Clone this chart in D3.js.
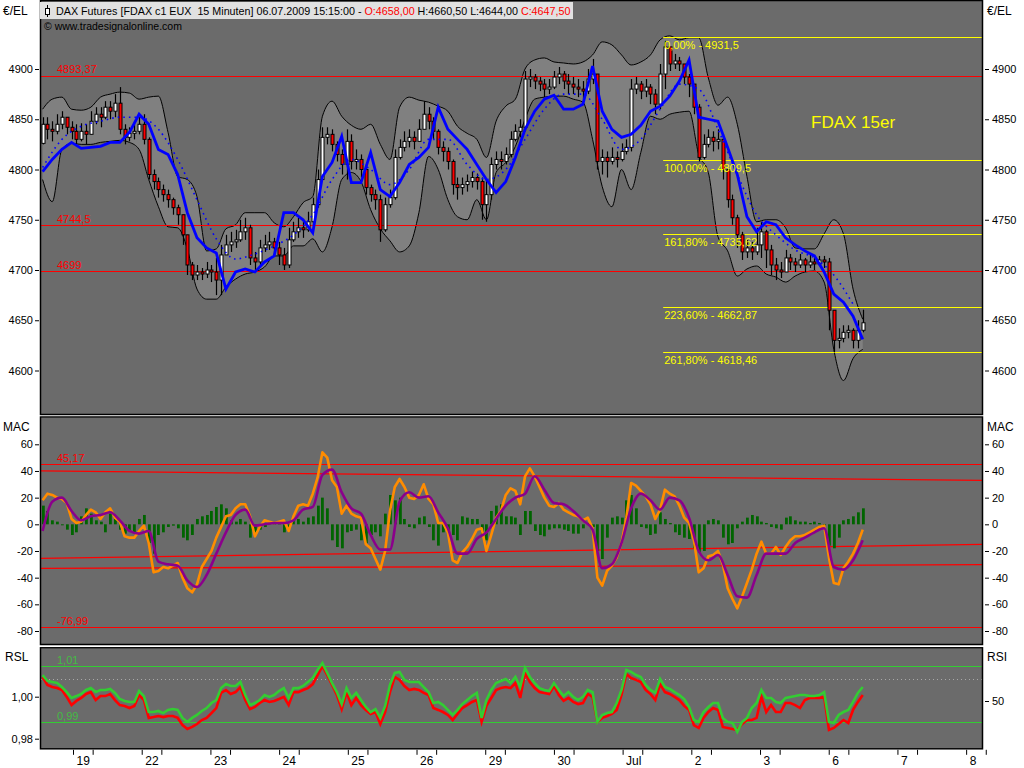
<!DOCTYPE html>
<html><head><meta charset="utf-8">
<script src="https://cdn.jsdelivr.net/npm/d3@7"></script>
<style>body{margin:0;background:#fff}svg text{font-family:"Liberation Sans",Arial,sans-serif}</style>
</head><body><svg id="c" width="1024" height="768"></svg>
<script>
// ---------------- DATA ----------------
// time grid: sample positions in trading days since 19 Jun 08:00
const SAMPLE_START = -0.4425, SAMPLE_STEP = 0.07022;
const dayLabels = ["19","22","23","24","25","26","29","30","Jul","2","3","6","7","8"];
const FIRST_OPEN = 4826;
const closes = [4845,4840,4838,4845,4852,4842,4838,4830,4838,4835,
4848,4855,4852,4862,4858,4866,4840,4832,4836,4838,
4845,4830,4795,4788,4780,4775,4770,4762,4755,4735,
4705,4695,4698,4696,4700,4698,4690,4715,4725,4728,
4730,4738,4742,4712,4708,4722,4725,4728,4722,4715,
4705,4730,4738,4742,4740,4748,4765,4790,4832,4835,
4825,4815,4805,4828,4808,4810,4800,4782,4775,4770,
4740,4765,4772,4812,4822,4828,4832,4828,4840,4855,
4848,4838,4822,4818,4808,4785,4782,4785,4788,4792,
4788,4765,4775,4805,4810,4808,4815,4830,4838,4842,
4890,4892,4888,4885,4880,4882,4892,4895,4888,4885,
4882,4880,4878,4890,4895,4808,4812,4808,4812,4810,
4818,4822,4880,4885,4878,4882,4875,4865,4895,4922,
4905,4908,4905,4892,4885,4862,4812,4825,4832,4828,
4830,4800,4770,4752,4735,4718,4722,4718,4725,4738,
4720,4705,4700,4698,4712,4708,4705,4710,4705,4708,
4706,4710,4708,4660,4630,4632,4638,4640,4630,4640,4647.5];
const highs = [4852,4852,4848,4855,4858,4850,4848,4845,4846,4845,
4858,4862,4862,4868,4868,4875,4882,4845,4842,4845,
4852,4855,4832,4800,4792,4785,4780,4772,4765,4755,
4735,4708,4705,4702,4708,4705,4712,4725,4735,4738,
4740,4750,4752,4745,4718,4730,4735,4738,4732,4728,
4722,4742,4748,4752,4750,4758,4772,4800,4842,4842,
4840,4828,4820,4840,4835,4820,4815,4805,4785,4780,
4775,4772,4780,4820,4830,4838,4840,4838,4850,4868,
4862,4852,4840,4828,4822,4810,4792,4792,4795,4798,
4796,4792,4790,4812,4818,4818,4822,4838,4845,4850,
4898,4900,4895,4892,4890,4890,4898,4902,4898,4895,
4892,4890,4888,4900,4910,4895,4820,4818,4822,4818,
4826,4830,4890,4892,4888,4890,4885,4880,4905,4928,
4920,4915,4912,4905,4895,4885,4865,4835,4840,4838,
4840,4835,4800,4775,4755,4738,4730,4728,4742,4748,
4740,4725,4712,4708,4720,4716,4712,4716,4712,4715,
4712,4714,4714,4712,4660,4642,4645,4645,4642,4650,4660.5];
const lows = [4825,4830,4828,4835,4840,4835,4830,4825,4828,4825,
4838,4845,4842,4850,4850,4852,4835,4825,4828,4830,
4835,4825,4790,4780,4772,4768,4762,4755,4745,4725,
4695,4690,4690,4690,4692,4688,4675,4675,4715,4718,
4722,4728,4730,4705,4700,4705,4718,4720,4715,4705,
4700,4702,4728,4732,4732,4738,4745,4762,4790,4825,
4818,4808,4795,4790,4800,4800,4792,4775,4768,4760,
4728,4738,4762,4770,4810,4818,4822,4820,4828,4845,
4840,4830,4815,4808,4800,4775,4770,4775,4778,4782,
4780,4750,4748,4770,4800,4800,4805,4812,4828,4832,
4838,4882,4880,4878,4872,4875,4880,4885,4880,4875,
4875,4872,4870,4875,4885,4800,4795,4792,4805,4802,
4808,4815,4818,4875,4870,4872,4865,4855,4860,4880,
4898,4900,4898,4885,4872,4855,4808,4810,4822,4818,
4820,4790,4762,4745,4722,4710,4712,4710,4715,4712,
4702,4695,4690,4692,4700,4700,4698,4702,4698,4702,
4700,4704,4702,4640,4618,4622,4628,4632,4622,4622,4638];
// envelope, moving averages: every 2nd sample
const bandUpper = [4860,4870,4872,4860,4859,4862,4872,4875,4877,4876,
4870,4872,4873,4837,4793,4790,4773,4719,4721,4741,
4745,4757,4757,4757,4747,4743,4753,4767,4773,4853,
4868,4853,4844,4840,4845,4825,4810,4862,4872,4869,
4867,4863,4858,4843,4836,4830,4812,4848,4863,4870,
4900,4909,4911,4907,4906,4905,4907,4914,4927,4924,
4914,4904,4907,4914,4929,4933,4929,4931,4931,4891,
4864,4872,4845,4793,4748,4750,4750,4742,4722,4721,
4721,4736,4750,4736,4681,4651];
const bandLower = [4790,4768,4820,4826,4825,4825,4827,4828,4829,4827,
4820,4790,4763,4743,4742,4721,4681,4671,4671,4683,
4691,4696,4698,4703,4714,4714,4724,4724,4731,4718,
4743,4790,4797,4788,4760,4741,4729,4718,4724,4757,
4813,4800,4770,4753,4750,4770,4750,4797,4807,4823,
4850,4870,4872,4873,4873,4870,4867,4830,4783,4763,
4800,4780,4817,4853,4850,4855,4857,4858,4815,4797,
4733,4719,4694,4701,4704,4696,4693,4688,4694,4698,
4699,4688,4621,4590,4612,4621];
const blueMA = [4798,4810,4820,4827,4821,4822,4823,4827,4827,4837,
4855,4845,4820,4815,4795,4757,4732,4722,4717,4681,
4698,4701,4698,4708,4714,4757,4757,4750,4737,4793,
4807,4833,4787,4787,4817,4780,4773,4787,4805,4812,
4822,4862,4840,4830,4820,4805,4790,4777,4788,4812,
4840,4858,4870,4874,4860,4860,4865,4903,4858,4840,
4832,4835,4844,4858,4863,4873,4888,4909,4852,4850,
4848,4822,4795,4753,4738,4748,4745,4732,4725,4719,
4714,4698,4676,4668,4654,4631];
// dotted average: every 4th sample
const blueDotted = [4802,4830,4843,4848,4852,4852,4840,4810,4770,4731,
4711,4716,4724,4735,4755,4790,4810,4800,4785,4800,
4830,4830,4805,4790,4800,4830,4860,4875,4875,4850,
4820,4830,4860,4885,4880,4840,4795,4755,4735,4720,
4712,4695,4666];
const priceLevels = [4893.37, 4744.5, 4699];
const priceLevelLabels = ["4893,37", "4744,5", "4699"];
const FIB_START_DAY = 8.59;
const fibValues = [4931.5, 4809.5, 4735.62, 4662.87, 4618.46];
const fibLabels = ["0,00% - 4931,5","100,00% - 4809,5","161,80% - 4735,62","223,60% - 4662,87","261,80% - 4618,46"];
const priceTicks = [4600,4650,4700,4750,4800,4850,4900];

// MAC panel
const macd = [18,23,22,20,19,16,4,1,2,7,
11,9,4,9,12,5,2,-9,-10,-10,
-5,-1,-14,-36,-35,-32,-33,-31,-29,-40,
-48,-51,-45,-32,-26,-20,-10,-2,6,7,
12,15,15,6,-9,-2,3,2,1,2,
3,-5,6,14,15,14,23,35,54,50,
33,28,8,14,8,6,5,-15,-18,-26,
-34,-20,10,28,34,28,20,19,22,30,
19,15,1,1,-6,-27,-29,-21,-17,-11,
-4,-3,-20,-8,5,10,22,27,25,15,
36,42,36,28,20,14,13,16,11,9,
7,6,3,5,-3,-40,-46,-35,-31,-25,
-14,5,31,29,25,21,15,4,11,26,
23,21,14,5,1,-12,-36,-33,-24,-23,
-20,-30,-48,-56,-63,-54,-44,-34,-22,-13,
-22,-22,-17,-23,-17,-12,-9,-9,-8,-6,
-4,-2,-1,-25,-44,-45,-33,-28,-22,-14,-4];
const macdSignal = [-5,17,20,10,3,6,7,9,3,-5,
-7,-5,-28,-30,-31,-42,-47,-38,-22,-6,
7,11,-1,0,1,1,3,11,13,37,
41,24,12,8,-8,-19,-19,17,24,20,
21,9,-3,-22,-22,-11,-6,4,14,20,
23,36,26,16,15,10,3,-4,-33,-30,
-14,12,23,18,11,20,18,5,-20,-27,
-23,-38,-54,-55,-38,-22,-22,-22,-14,-10,
-6,-3,-32,-34,-27,-12];
const macdHist = [14,10,3,2,0,-4,-8,-6,6,12,
8,3,2,-6,8,5,-4,-7,-5,-6,
4,7,-14,-22,-8,-6,-2,-1,-3,-10,
-12,-8,4,6,7,10,13,15,12,3,
2,4,2,-10,-8,-4,-2,2,1,2,
-6,-3,3,4,2,5,6,14,20,12,
-12,-17,-18,-6,-5,-4,-12,-14,-8,-6,
-9,8,22,18,20,4,-2,-3,5,6,
-2,-12,-16,-6,-8,-8,-12,6,5,4,
4,-8,-12,10,14,15,6,6,5,-8,
10,10,-5,-8,-9,-4,-3,-3,-4,-5,
-7,-7,-3,1,-2,-20,-26,-10,5,6,
5,18,22,12,-2,-3,-8,-7,9,4,
1,-6,-8,-10,-11,-18,-21,-20,3,4,
3,-10,-15,-14,-3,2,5,7,6,2,
1,-2,-3,-4,5,6,3,2,2,1,
2,1,0,-16,-18,-10,3,4,6,9,12];
const macLevels = [45.17, -76.99];
const macLevelLabels = ["45,17", "-76,99"];
const macTrendStart = [40.0, -25.5, -33.0];   // value at left edge
const macTrendEnd   = [33.0, -15.0, -30.3];   // value at right edge
const macTicks = [-80,-60,-40,-20,0,20,40,60];

// RSL panel
const rslGreen = [1.0103,1.0075,1.0070,1.0065,1.0046,1.0022,0.9994,1.0003,1.0013,1.0032,
1.0041,1.0022,1.0032,1.0032,1.0037,1.0018,0.9989,0.9980,0.9975,0.9975,
1.0027,1.0003,0.9927,0.9927,0.9932,0.9922,0.9937,0.9941,0.9937,0.9899,
0.9880,0.9899,0.9913,0.9932,0.9946,0.9970,0.9984,1.0041,1.0060,1.0051,
1.0051,1.0070,1.0008,0.9960,0.9970,0.9984,1.0008,0.9999,1.0008,1.0027,
1.0041,0.9994,1.0041,1.0041,1.0051,1.0070,1.0089,1.0127,1.0160,1.0113,
1.0065,1.0022,0.9965,1.0041,0.9994,1.0018,0.9984,0.9951,0.9927,0.9941,
0.9899,0.9956,1.0056,1.0113,1.0118,1.0080,1.0070,1.0070,1.0070,1.0046,
1.0022,0.9970,0.9975,0.9960,0.9937,0.9913,0.9937,0.9965,0.9984,1.0003,
1.0018,0.9899,0.9984,1.0032,1.0065,1.0075,1.0084,1.0065,1.0094,1.0046,
1.0137,1.0094,1.0065,1.0041,1.0032,1.0027,1.0065,1.0032,1.0003,1.0022,
0.9999,0.9984,0.9999,1.0032,1.0022,0.9880,0.9913,0.9922,0.9927,0.9970,
1.0032,1.0127,1.0118,1.0103,1.0094,1.0056,1.0032,1.0018,1.0084,1.0046,
1.0037,1.0022,1.0008,0.9989,0.9951,0.9889,0.9880,0.9927,0.9951,0.9970,
0.9970,0.9899,0.9880,0.9875,0.9832,0.9880,0.9899,0.9946,0.9970,1.0032,
0.9994,0.9994,0.9975,0.9970,0.9994,0.9999,1.0003,1.0008,1.0008,1.0003,
1.0003,1.0008,1.0022,0.9880,0.9875,0.9913,0.9927,0.9937,0.9975,1.0018,1.0046];
const rslRed = [1.0094,1.0056,1.0046,1.0041,1.0032,0.9999,0.9960,0.9980,0.9994,1.0013,
1.0022,0.9984,1.0003,1.0003,1.0013,0.9984,0.9960,0.9956,0.9946,0.9956,
1.0008,0.9984,0.9899,0.9903,0.9908,0.9903,0.9908,0.9908,0.9899,0.9865,
0.9846,0.9856,0.9870,0.9889,0.9899,0.9922,0.9946,1.0018,1.0032,1.0013,
1.0022,1.0046,0.9984,0.9941,0.9951,0.9970,0.9984,0.9975,0.9980,0.9989,
0.9999,0.9960,1.0022,1.0022,1.0032,1.0041,1.0060,1.0103,1.0146,1.0103,
1.0056,1.0008,0.9941,1.0022,0.9960,0.9994,0.9960,0.9937,0.9918,0.9927,
0.9870,0.9927,1.0022,1.0094,1.0080,1.0051,1.0032,1.0037,1.0032,1.0018,
1.0008,0.9946,0.9937,0.9927,0.9913,0.9889,0.9918,0.9946,0.9960,0.9975,
0.9984,0.9880,0.9956,0.9994,1.0032,1.0041,1.0046,1.0041,1.0065,0.9994,
1.0113,1.0070,1.0041,1.0022,1.0018,1.0013,1.0051,1.0008,0.9980,0.9994,
0.9975,0.9965,0.9970,1.0013,0.9999,0.9880,0.9899,0.9908,0.9918,0.9937,
1.0008,1.0108,1.0089,1.0080,1.0070,1.0032,1.0013,0.9984,1.0060,1.0022,
1.0013,0.9999,0.9984,0.9956,0.9937,0.9865,0.9851,0.9899,0.9927,0.9946,
0.9937,0.9856,0.9851,0.9846,0.9842,0.9870,0.9889,0.9889,0.9899,0.9999,
0.9927,0.9960,0.9927,0.9927,0.9970,0.9970,0.9960,0.9946,0.9984,0.9994,
0.9994,0.9994,0.9999,0.9842,0.9851,0.9870,0.9889,0.9875,0.9937,0.9975,1.0008];
const rslLevels = [1.0146, 0.9880];
const rslLevelLabels = ["1,01", "0,99"];
const rslMid = 1.0083;
const rslTicks = [0.98, 1.00];
const rsiTicks = [50];

// ---------------- DRAWING ----------------
const svg = d3.select("#c");
const X0 = 41, X1 = 982;
const P = {main:[1,414], mac:[417.5,644], rsl:[648.3,748.3]};
const x = d3.scaleLinear().domain([-0.466, 13.231]).range([X0, X1]);
const sx = i => x(SAMPLE_START + i * SAMPLE_STEP);
const yP = d3.scaleLinear().domain([4600, 4900]).range([370.5, 69]);
const yM = d3.scaleLinear().domain([-80, 60]).range([631, 444.3]);
const yR = d3.scaleLinear().domain([0.98, 1.00]).range([738.7, 696.7]);
const yS = d3.scaleLinear().domain([0, 100]).range([801, 601]);
const FONT = 11;

svg.append("rect").attr("width",1024).attr("height",768).attr("fill","#fff");

function panel(name){
  const [t,b] = P[name];
  svg.append("clipPath").attr("id","cp-"+name).append("rect")
    .attr("x",X0).attr("y",t).attr("width",X1-X0).attr("height",b-t);
  svg.append("rect").attr("x",X0).attr("y",t).attr("width",X1-X0).attr("height",b-t).attr("fill","#6b6b6b");
  return svg.append("g").attr("clip-path",`url(#cp-${name})`);
}
function hline(g, yv, color, x0v){
  g.append("line").attr("x1", x0v===undefined?X0:x0v).attr("x2",X1)
   .attr("y1",Math.round(yv)+0.5).attr("y2",Math.round(yv)+0.5)
   .attr("stroke",color).attr("stroke-width",1);
}
function label(g, xv, yv, txt, color, size, anchor){
  g.append("text").attr("x",xv).attr("y",yv).attr("fill",color)
   .attr("font-size",size||FONT).attr("text-anchor",anchor||"start").text(txt);
}

// ---- main panel ----
const gm = panel("main");
const kx = k => sx(2*k);
gm.append("path").datum(bandUpper.map((u,k)=>({k,u,l:bandLower[k]})))
  .attr("d", d3.area().x(d=>kx(d.k)).y0(d=>yP(d.l)).y1(d=>yP(d.u)).curve(d3.curveMonotoneX))
  .attr("fill","#808080");
[bandUpper, bandLower].forEach(arr=>{
  gm.append("path").datum(arr).attr("fill","none").attr("stroke","#000").attr("stroke-width",1)
    .attr("d", d3.line().x((d,k)=>kx(k)).y(d=>yP(d)).curve(d3.curveMonotoneX));
});
fibValues.forEach(v=>hline(gm, yP(v), "#ffff00", x(FIB_START_DAY)));
priceLevels.forEach(v=>hline(gm, yP(v), "#ff0000"));

const candles = closes.map((c,i)=>{
  const o = i ? closes[i-1] : FIRST_OPEN;
  return {i, o, c, h: Math.max(highs[i], o, c), l: Math.min(lows[i], o, c)};
});
gm.selectAll("line.wick").data(candles).join("line").attr("class","wick")
  .attr("x1",d=>Math.round(sx(d.i))+0.5).attr("x2",d=>Math.round(sx(d.i))+0.5)
  .attr("y1",d=>yP(d.h)).attr("y2",d=>yP(d.l)).attr("stroke","#000").attr("stroke-width",1.2);
gm.selectAll("rect.body").data(candles).join("rect").attr("class","body")
  .attr("x",d=>Math.round(sx(d.i))-1).attr("width",3)
  .attr("y",d=>yP(Math.max(d.o,d.c))).attr("height",d=>Math.max(1.5,Math.abs(yP(d.o)-yP(d.c))))
  .attr("fill",d=>d.c>=d.o?"#ffffff":"#ff0000").attr("stroke","#000").attr("stroke-width",1);

gm.append("path").datum(blueDotted).attr("fill","none").attr("stroke","#0000ff")
  .attr("stroke-width",1.6).attr("stroke-dasharray","1.6,4")
  .attr("d", d3.line().x((d,j)=>sx(4*j)).y(d=>yP(d)).curve(d3.curveMonotoneX));
gm.append("path").datum(blueMA).attr("fill","none").attr("stroke","#0000ff")
  .attr("stroke-width",2.8).attr("stroke-linejoin","miter")
  .attr("d", d3.line().x((d,k)=>kx(k)).y(d=>yP(d)));

priceLevels.forEach((v,j)=>label(svg, 57, yP(v)-2.5, priceLevelLabels[j], "#ff0000"));
fibValues.forEach((v,j)=>label(svg, x(FIB_START_DAY)+1, yP(v)+12, fibLabels[j], "#ffff00"));
label(svg, 811, 128, "FDAX 15er", "#ffff00", 17);

// ---- MAC panel ----
const gc = panel("mac");
macLevels.forEach(v=>hline(gc, yM(v), "#ff0000"));
macTrendStart.forEach((v,j)=>{
  gc.append("line").attr("x1",X0).attr("x2",X1).attr("y1",yM(v)).attr("y2",yM(macTrendEnd[j]))
    .attr("stroke","#ff0000").attr("stroke-width",1.3);
});
gc.selectAll("rect.hist").data(macdHist).join("rect").attr("class","hist")
  .attr("x",(d,i)=>Math.round(sx(i))-1).attr("width",2.8)
  .attr("y",d=>Math.min(yM(0),yM(d))).attr("height",d=>Math.max(1,Math.abs(yM(d)-yM(0))))
  .attr("fill","#006400");
gc.append("path").datum(macd).attr("fill","none").attr("stroke","#ff8c00").attr("stroke-width",2.6)
  .attr("stroke-linejoin","round").attr("d", d3.line().x((d,i)=>sx(i)).y(d=>yM(d)));
gc.append("path").datum(macdSignal).attr("fill","none").attr("stroke","#8b008b").attr("stroke-width",2.6)
  .attr("stroke-linejoin","round").attr("d", d3.line().x((d,k)=>kx(k)).y(d=>yM(d)).curve(d3.curveMonotoneX));
macLevels.forEach((v,j)=>label(svg, 57, yM(v)-2, macLevelLabels[j], "#ff0000"));

// ---- RSL panel ----
const gr = panel("rsl");
rslLevels.forEach(v=>hline(gr, yR(v), "#33cc33"));
gr.append("line").attr("x1",X0).attr("x2",X1).attr("y1",Math.round(yR(rslMid))+0.5).attr("y2",Math.round(yR(rslMid))+0.5)
  .attr("stroke","#a8a8a8").attr("stroke-width",1).attr("stroke-dasharray","1,3");
gr.append("path").datum(rslRed).attr("fill","none").attr("stroke","#ff0000").attr("stroke-width",2.6)
  .attr("d", d3.line().x((d,i)=>sx(i)).y(d=>yR(d)));
gr.append("path").datum(rslGreen).attr("fill","none").attr("stroke","#33cc33").attr("stroke-width",2.6)
  .attr("d", d3.line().x((d,i)=>sx(i)).y(d=>yR(d)));
rslLevels.forEach((v,j)=>label(svg, 57, yR(v)-2, rslLevelLabels[j], "#44bb44"));

// ---- borders ----
Object.values(P).forEach(([t,b])=>{
  svg.append("rect").attr("x",X0-0.5).attr("y",t-0.5).attr("width",X1-X0+1).attr("height",b-t+1)
    .attr("fill","none").attr("stroke","#000").attr("stroke-width",1.5);
});

// ---- axes ----
const numFmt = (dec)=> v => (v<0?"-":"") + Math.abs(v).toFixed(dec).replace(".",",");
function styleAxis(g){
  g.select(".domain").remove();
  g.selectAll("text").attr("font-size",FONT).attr("fill","#000").attr("font-family",'"Liberation Sans",Arial,sans-serif');
  g.selectAll("line").attr("stroke","#000");
}
function axes(scale, ticks, fmt){
  svg.append("g").attr("transform",`translate(${X0-2},0)`)
    .call(d3.axisLeft(scale).tickValues(ticks).tickSize(4).tickPadding(2).tickFormat(fmt)).call(styleAxis);
  svg.append("g").attr("transform",`translate(${X1+3},0)`)
    .call(d3.axisRight(scale).tickValues(ticks).tickSize(4).tickPadding(3).tickFormat(fmt)).call(styleAxis);
}
axes(yP, priceTicks, numFmt(0));
axes(yM, macTicks, numFmt(0));
svg.append("g").attr("transform",`translate(${X0-2},0)`)
  .call(d3.axisLeft(yR).tickValues(rslTicks).tickSize(4).tickPadding(2).tickFormat(numFmt(2))).call(styleAxis);
svg.append("g").attr("transform",`translate(${X1+3},0)`)
  .call(d3.axisRight(yS).tickValues(rsiTicks).tickSize(4).tickPadding(3).tickFormat(numFmt(0))).call(styleAxis);

// x axis: day ticks + a minor tick at 12:00
const dayIdx = dayLabels.map((d,i)=>i);
const gx = svg.append("g").attr("transform",`translate(0,${P.rsl[1]+1.5})`)
  .call(d3.axisBottom(x).tickValues(dayIdx).tickSize(5).tickPadding(2).tickFormat(i=>dayLabels[i]))
  .call(styleAxis);
gx.selectAll("text").attr("text-anchor","start").attr("x",3).attr("dy","0.71em").attr("font-size",FONT+1);
svg.append("g").attr("transform",`translate(0,${P.rsl[1]+1.5})`)
  .call(d3.axisBottom(x).tickValues(dayIdx.map(i=>i+16/56)).tickSize(5).tickFormat(""))
  .call(styleAxis);

// panel titles
label(svg, 3, 15, "€/EL", "#000", FONT+1);
label(svg, 987, 15, "€/EL", "#000", FONT+1);
label(svg, 3, 431, "MAC", "#000", FONT+1);
label(svg, 987, 431, "MAC", "#000", FONT+1);
label(svg, 5, 661, "RSL", "#000", FONT+1);
label(svg, 987, 661, "RSI", "#000", FONT+1);

// ---- header ----
const hdr = svg.append("g");
hdr.append("rect").attr("x",40).attr("y",2).attr("width",533).attr("height",17).attr("fill","#e1e1e1");
hdr.append("line").attr("x1",47.5).attr("x2",47.5).attr("y1",5).attr("y2",17).attr("stroke","#000");
hdr.append("rect").attr("x",45.5).attr("y",8.5).attr("width",4).attr("height",6).attr("fill","#fff").attr("stroke","#000");
const ht = hdr.append("text").attr("x",56).attr("y",15).attr("font-size",12).attr("xml:space","preserve");
[["DAX Futures [FDAX c1 EUX  15 Minuten] 06.07.2009 15:15:00 - ","#000"],["O:4658,00","#ff0000"],
 [" H:4660,50 L:4644,00 ","#000"],["C:4647,50","#ff0000"]].forEach(([t,c])=>ht.append("tspan").attr("fill",c).text(t));
const hw = ht.node().getComputedTextLength();
ht.attr("font-size", 12*515/hw);
label(svg, 44, 30, "© www.tradesignalonline.com", "#000", 10.5);
</script></body></html>
